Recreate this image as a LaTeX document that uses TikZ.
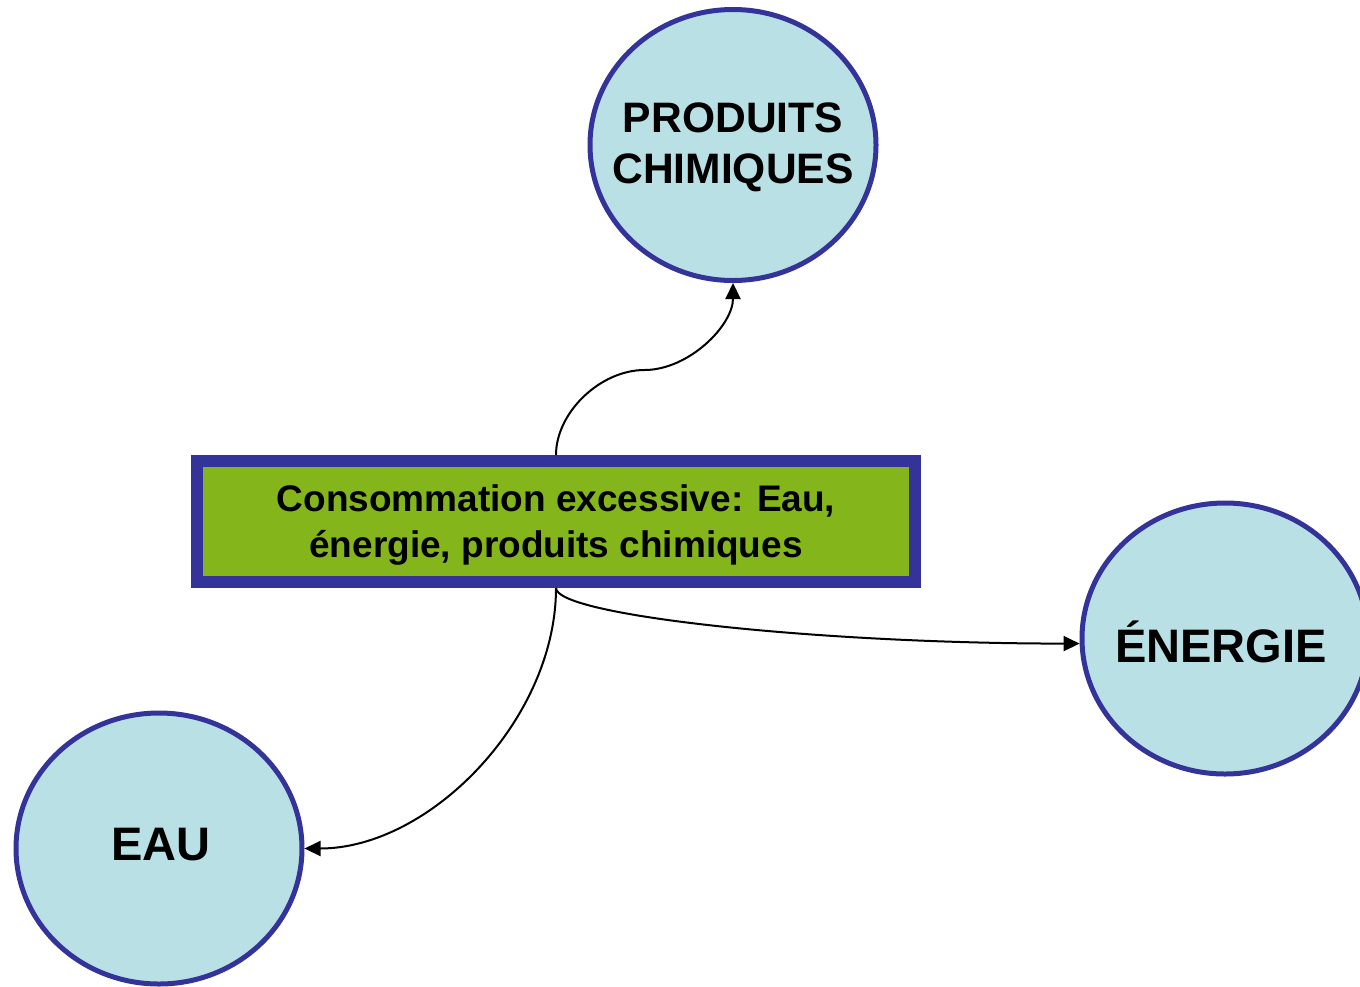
\documentclass[tikz,border=0pt]{standalone}
\usepackage{fontspec}
\setmainfont{Liberation Sans}
\usetikzlibrary{arrows.meta,shapes.geometric}
\definecolor{circfill}{HTML}{B9E0E4}
\definecolor{navy}{HTML}{333399}
\definecolor{boxgreen}{HTML}{84B51A}
\tikzset{
  bubble/.style={ellipse, draw=navy, fill=circfill, line width=2.5pt, inner sep=0pt,
    minimum width=143pt, minimum height=135.5pt},
  bubtext/.style={align=center, inner sep=0pt,
    font=\fontsize{23.5pt}{25.5pt}\selectfont\bfseries},
  mainbox/.style={rectangle, draw=navy, fill=boxgreen, line width=6pt, inner sep=0pt,
    minimum width=359pt, minimum height=60.5pt},
  boxtext/.style={align=center, inner sep=0pt,
    font=\fontsize{18.5pt}{23pt}\selectfont\bfseries},
  link/.style={line width=1pt, -{Triangle[length=8pt,width=7.5pt]}}
}
\begin{document}
\begin{tikzpicture}[x=0.5pt,y=-0.5pt]
\useasboundingbox (0,0) rectangle (1360,986);
\node[bubble, label={[bubtext, font=\fontsize{21.3pt}{25.5pt}\selectfont\bfseries, yshift=-1pt]center:PRODUITS\\CHIMIQUES}] (prod) at (733,145) {};
\node[bubble, label={[bubtext, xshift=-2pt, yshift=-1.5pt]center:ÉNERGIE}] (ener) at (1225,638.5) {};
\node[bubble, label={[bubtext, xshift=1pt, yshift=2pt]center:EAU}] (eau) at (159,848.5) {};
\node[mainbox, label={[boxtext, yshift=-2pt]center:Consommation excessive: Eau,\\énergie, produits chimiques}] (cons) at (556,521.5) {};
\draw[link] (cons.north) .. controls +(0,-42.5) and +(-44.25,0) .. (644.5,370)
  .. controls +(44.25,0) and +(0,42.5) .. (prod.south);
\draw[link] (cons.south) .. controls +(0,27.5) and +(-262,0) .. (ener.182);
\draw[link] (cons.south) .. controls +(0,131) and +(125.5,0) .. (eau.east);
\end{tikzpicture}
\end{document}
